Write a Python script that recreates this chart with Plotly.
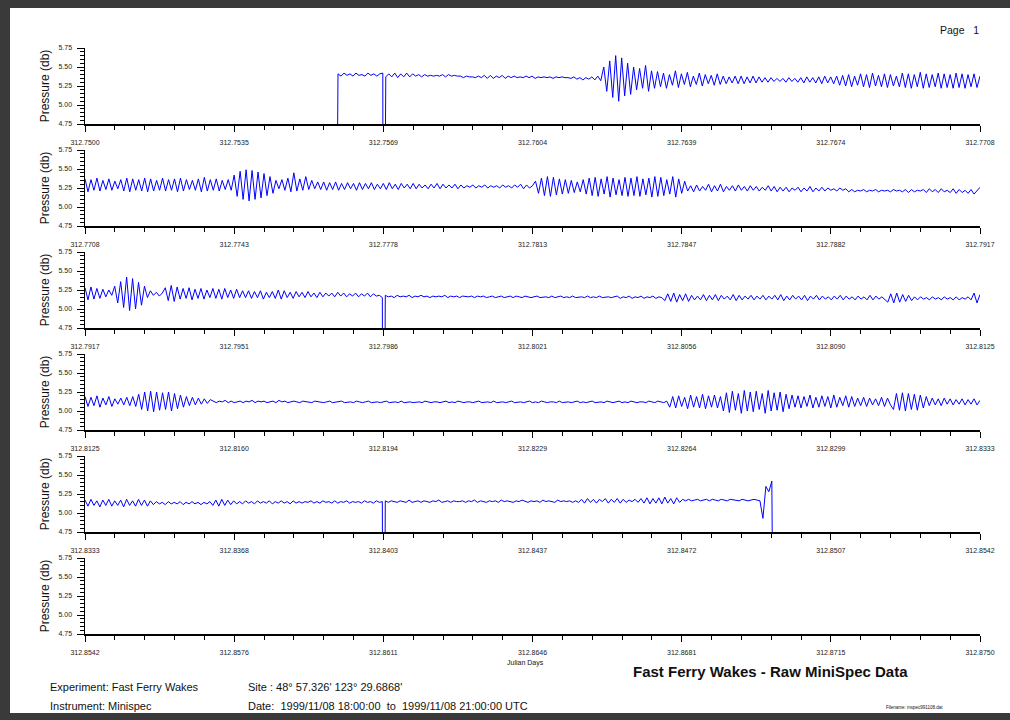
import plotly.graph_objects as go
from plotly.subplots import make_subplots

# ---------------- data ----------------
PANEL_STARTS = [312.750000, 312.770833, 312.791667, 312.812500, 312.833333, 312.854167]
PANEL_SPAN = 1.0 / 48.0  # 30 minutes in days

X_TICK_LABELS = [
    ["312.7500", "312.7535", "312.7569", "312.7604", "312.7639", "312.7674", "312.7708"],
    ["312.7708", "312.7743", "312.7778", "312.7813", "312.7847", "312.7882", "312.7917"],
    ["312.7917", "312.7951", "312.7986", "312.8021", "312.8056", "312.8090", "312.8125"],
    ["312.8125", "312.8160", "312.8194", "312.8229", "312.8264", "312.8299", "312.8333"],
    ["312.8333", "312.8368", "312.8403", "312.8437", "312.8472", "312.8507", "312.8542"],
    ["312.8542", "312.8576", "312.8611", "312.8646", "312.8681", "312.8715", "312.8750"],
]
Y_TICK_VALUES = [4.75, 5.00, 5.25, 5.50, 5.75]
Y_TICK_LABELS = ["4.75", "5.00", "5.25", "5.50", "5.75"]

# first / last sample time of each recorded segment (Julian days)
SERIES_TIME_SPANS = [
    (312.755820, 312.770833),
    (312.770833, 312.791667),
    (312.791667, 312.812500),
    (312.812500, 312.833333),
    (312.833333, 312.849390),
]
DROPOUT_TIMES = [312.756944, 312.798611, 312.840278]
DROPOUT_VALUE = 0.0

pressure_1 = [
    0.0,
    5.41, 5.38, 5.42, 5.39, 5.41, 5.38, 5.42, 5.39, 5.40, 5.38, 5.42, 5.39, 5.41, 5.38, 5.41,
    5.42, 5.37, 5.41, 5.37, 5.42, 5.36, 5.41, 5.37, 5.42, 5.37, 5.41, 5.38, 5.40, 5.37, 5.40, 5.38,
    5.39, 5.38, 5.39, 5.38, 5.40, 5.37, 5.40, 5.38, 5.39, 5.38,
    5.38, 5.36, 5.38, 5.37, 5.37, 5.36, 5.38, 5.36, 5.39, 5.35, 5.39, 5.35, 5.38, 5.36, 5.39, 5.35,
    5.38, 5.36, 5.38, 5.36, 5.37, 5.36, 5.38, 5.36, 5.38, 5.35, 5.37, 5.36, 5.37, 5.36, 5.37, 5.35,
    5.37, 5.36, 5.37, 5.36, 5.36, 5.35, 5.37,
    5.34, 5.36, 5.33, 5.36, 5.34, 5.37, 5.33, 5.38, 5.32,
    5.50, 5.18, 5.58, 5.10, 5.65, 5.05, 5.62, 5.12, 5.55, 5.14, 5.50, 5.20, 5.48, 5.22, 5.52, 5.18, 5.45,
    5.22, 5.44, 5.24, 5.42, 5.22, 5.40, 5.26, 5.45, 5.23, 5.41, 5.27, 5.43, 5.24, 5.38, 5.27, 5.42,
    5.25, 5.40, 5.28, 5.39, 5.26, 5.41, 5.27, 5.38, 5.28, 5.37, 5.29, 5.38, 5.28,
    5.38, 5.28, 5.37, 5.29, 5.38, 5.29, 5.37, 5.30, 5.36, 5.30, 5.36, 5.31, 5.35, 5.31, 5.35, 5.30,
    5.36, 5.31, 5.35, 5.30, 5.36, 5.29, 5.37, 5.30, 5.36, 5.29, 5.37, 5.28, 5.38, 5.29, 5.37, 5.28, 5.38,
    5.26, 5.39, 5.25, 5.40, 5.24, 5.38, 5.26, 5.41, 5.24, 5.40, 5.23, 5.42, 5.25, 5.39, 5.24, 5.41,
    5.23, 5.40, 5.25, 5.38, 5.24, 5.42, 5.23, 5.41, 5.22, 5.40, 5.24, 5.43, 5.22, 5.41, 5.23, 5.40,
    5.24, 5.42, 5.22, 5.41, 5.23, 5.40, 5.22, 5.42, 5.23, 5.41, 5.22, 5.40, 5.24, 5.41, 5.23, 5.38,
]

pressure_2 = [
    5.37, 5.20, 5.36, 5.22, 5.38, 5.21, 5.35, 5.23, 5.37, 5.22, 5.34, 5.24, 5.36, 5.21, 5.38, 5.20,
    5.37, 5.22, 5.36, 5.21, 5.38, 5.20, 5.37, 5.21, 5.35, 5.22, 5.38, 5.21, 5.36, 5.22, 5.37, 5.20,
    5.38, 5.21, 5.36, 5.23, 5.35, 5.22, 5.37, 5.20, 5.39, 5.21, 5.36, 5.22, 5.37, 5.21, 5.35, 5.23,
    5.36, 5.22,
    5.42, 5.14, 5.47, 5.10, 5.49, 5.08, 5.48, 5.10, 5.46, 5.12, 5.44, 5.15, 5.40, 5.18,
    5.35, 5.24, 5.36, 5.22, 5.38, 5.20, 5.45, 5.21, 5.37, 5.22, 5.40, 5.23, 5.35, 5.24, 5.33,
    5.23, 5.33, 5.22, 5.32, 5.23, 5.33, 5.22, 5.31, 5.23, 5.32, 5.24, 5.31, 5.22, 5.32, 5.23, 5.31,
    5.24, 5.32, 5.23, 5.30, 5.24, 5.31, 5.23, 5.32, 5.24, 5.30, 5.23, 5.31, 5.25, 5.30, 5.24, 5.31,
    5.24, 5.30, 5.25, 5.29, 5.24, 5.30, 5.25, 5.31, 5.24, 5.30, 5.25, 5.29, 5.25, 5.30, 5.24, 5.29,
    5.25, 5.28, 5.26, 5.29, 5.25, 5.28, 5.26, 5.29, 5.25, 5.28, 5.26, 5.28, 5.25, 5.29, 5.26, 5.28,
    5.25, 5.29, 5.26, 5.30, 5.24, 5.29, 5.25, 5.28,
    5.34, 5.18, 5.38, 5.15, 5.40, 5.14, 5.39, 5.16, 5.37, 5.17, 5.36, 5.18, 5.35, 5.19, 5.33, 5.20,
    5.36, 5.17, 5.38, 5.15, 5.39, 5.14, 5.37, 5.17, 5.40, 5.13, 5.38, 5.16, 5.36, 5.15, 5.39, 5.14,
    5.38, 5.15, 5.40, 5.14, 5.37, 5.16, 5.38, 5.13, 5.40, 5.14, 5.39, 5.15, 5.36, 5.17, 5.40, 5.13,
    5.37, 5.18, 5.34,
    5.21, 5.28, 5.20, 5.29, 5.21, 5.27, 5.22, 5.30, 5.20, 5.28, 5.21, 5.30, 5.20, 5.27, 5.22, 5.28,
    5.21, 5.29, 5.22, 5.27, 5.21, 5.28, 5.22, 5.27, 5.21, 5.26, 5.22, 5.28, 5.21, 5.27,
    5.20, 5.26, 5.21, 5.26, 5.20, 5.25, 5.22, 5.26, 5.20, 5.25, 5.21, 5.27, 5.20, 5.25, 5.21, 5.26,
    5.21, 5.25, 5.22, 5.24, 5.21, 5.25, 5.22, 5.24,
    5.20, 5.23, 5.20, 5.22, 5.21, 5.23, 5.20, 5.22, 5.21, 5.23, 5.20, 5.22, 5.21, 5.22, 5.20, 5.23,
    5.21, 5.22, 5.20, 5.23, 5.19, 5.23, 5.20, 5.22, 5.21, 5.23, 5.19, 5.24, 5.20, 5.23, 5.19, 5.24,
    5.20, 5.22, 5.19, 5.24, 5.18, 5.23, 5.19, 5.22, 5.18, 5.23, 5.17, 5.21, 5.26,
]

pressure_3 = [
    5.28, 5.12, 5.29, 5.13, 5.27, 5.14, 5.26, 5.16, 5.25, 5.18,
    5.30, 5.08, 5.36, 5.02, 5.42, 4.98, 5.40, 5.00, 5.35, 5.05, 5.30,
    5.15, 5.24, 5.18, 5.22, 5.17, 5.21,
    5.28, 5.11, 5.31, 5.10, 5.29, 5.13, 5.27, 5.14, 5.28, 5.12, 5.26, 5.14, 5.27, 5.13, 5.25, 5.15,
    5.27, 5.14, 5.26, 5.13, 5.27, 5.15, 5.25, 5.14, 5.26, 5.15, 5.24,
    5.15, 5.24, 5.14, 5.23, 5.15, 5.24, 5.13, 5.22, 5.15, 5.23, 5.14, 5.25, 5.13, 5.24, 5.15, 5.22,
    5.14, 5.23, 5.16, 5.22, 5.15, 5.23, 5.16, 5.21, 5.15, 5.22, 5.16, 5.21, 5.17, 5.21, 5.16, 5.22,
    5.17, 5.21, 5.16, 5.20, 5.17, 5.21, 5.16, 5.20, 5.17, 5.21, 5.16, 5.20, 5.17,
    5.18, 5.15, 5.18, 5.16, 5.17, 5.15, 5.18, 5.16, 5.17, 5.16, 5.18, 5.15, 5.17, 5.16, 5.18, 5.16,
    5.17, 5.15, 5.17, 5.16, 5.17, 5.16, 5.18, 5.15, 5.17, 5.16, 5.17, 5.15, 5.17, 5.16, 5.16, 5.17,
    5.15, 5.17, 5.16, 5.17, 5.15, 5.16, 5.17, 5.15, 5.16, 5.17, 5.15, 5.16, 5.17, 5.15, 5.17, 5.16,
    5.15, 5.17, 5.16, 5.15, 5.16, 5.17, 5.15, 5.16, 5.16, 5.15, 5.17, 5.15, 5.16, 5.17, 5.15, 5.16,
    5.15, 5.17, 5.15, 5.16, 5.16, 5.15, 5.17, 5.15, 5.16, 5.15, 5.17, 5.15, 5.16, 5.16, 5.15, 5.16,
    5.17, 5.14, 5.16, 5.15, 5.17, 5.14, 5.16, 5.15, 5.17, 5.14, 5.16, 5.15, 5.17, 5.14, 5.16, 5.15,
    5.11, 5.20, 5.10, 5.21, 5.09, 5.19, 5.11, 5.20, 5.10, 5.18, 5.12, 5.17,
    5.12, 5.19, 5.11, 5.18, 5.12, 5.19, 5.11, 5.18, 5.13, 5.17, 5.12, 5.19, 5.11, 5.18, 5.12, 5.17,
    5.13, 5.18, 5.12, 5.17, 5.13, 5.18, 5.12, 5.17, 5.13, 5.18, 5.12, 5.19, 5.11, 5.17, 5.12, 5.18,
    5.13, 5.17, 5.12, 5.18, 5.11, 5.17, 5.13, 5.18, 5.12, 5.17, 5.13, 5.16, 5.12, 5.17, 5.13, 5.18,
    5.12, 5.17, 5.13, 5.16, 5.12, 5.17, 5.13, 5.16, 5.12, 5.18, 5.12, 5.17, 5.13, 5.16, 5.12,
    5.09, 5.20, 5.08, 5.21, 5.09, 5.19, 5.10, 5.18, 5.11,
    5.16, 5.12, 5.16, 5.13, 5.15, 5.12, 5.16, 5.13, 5.15, 5.12, 5.16, 5.13, 5.15, 5.12, 5.16, 5.12,
    5.15, 5.13, 5.16, 5.12,
    5.21, 5.08, 5.19,
]

pressure_4 = [
    5.19, 5.06, 5.18, 5.07, 5.20, 5.05, 5.17, 5.08, 5.19, 5.06, 5.16, 5.09, 5.17, 5.08, 5.18, 5.07,
    5.19, 5.06,
    5.22, 5.02, 5.25, 5.00, 5.26, 4.99, 5.25, 5.01, 5.24, 5.02, 5.25, 5.00, 5.23, 5.03, 5.21, 5.05, 5.19,
    5.07, 5.18, 5.08, 5.17, 5.09, 5.16, 5.10, 5.15,
    5.13, 5.11, 5.13, 5.12, 5.14, 5.11, 5.13, 5.11, 5.12, 5.13, 5.11, 5.13, 5.12, 5.14, 5.11, 5.13,
    5.12, 5.13, 5.11, 5.12, 5.13, 5.11, 5.14, 5.12, 5.13, 5.11, 5.12, 5.13, 5.12, 5.11, 5.13, 5.12,
    5.12, 5.11, 5.13, 5.12, 5.12, 5.11, 5.12, 5.13, 5.11, 5.12, 5.12, 5.13, 5.11, 5.12, 5.12, 5.11,
    5.13, 5.12, 5.11, 5.12, 5.13, 5.11, 5.12, 5.12, 5.11, 5.12, 5.13, 5.11, 5.12, 5.12, 5.11, 5.13,
    5.11, 5.12, 5.12, 5.11, 5.12, 5.12, 5.11, 5.13, 5.12, 5.11, 5.12, 5.12, 5.11, 5.12, 5.13, 5.11,
    5.12, 5.11, 5.13, 5.12, 5.11, 5.12, 5.12, 5.11, 5.12, 5.13, 5.11, 5.12, 5.12, 5.11, 5.13, 5.11,
    5.12, 5.12, 5.11, 5.12, 5.13, 5.11, 5.12, 5.12, 5.11, 5.12, 5.13, 5.11, 5.12, 5.11, 5.13, 5.12,
    5.11, 5.12, 5.12, 5.11, 5.13, 5.11, 5.12, 5.12, 5.11, 5.12, 5.13, 5.11, 5.12, 5.11, 5.12, 5.13,
    5.11, 5.12, 5.12, 5.11, 5.13, 5.12, 5.11, 5.12, 5.13, 5.11, 5.12, 5.11, 5.13, 5.12, 5.11, 5.12,
    5.12, 5.11, 5.13, 5.12, 5.11, 5.13, 5.12, 5.11, 5.13,
    5.05, 5.19, 5.04, 5.20, 5.06, 5.18, 5.03, 5.21, 5.05, 5.19, 5.04, 5.22, 5.03, 5.20, 5.05, 5.21,
    5.04, 5.19,
    5.00, 5.24, 4.98, 5.26, 5.01, 5.23, 4.97, 5.27, 5.00, 5.25, 4.99, 5.26, 5.02, 5.23, 4.97, 5.27,
    5.00, 5.24, 5.01, 5.25, 4.99, 5.22, 5.03, 5.21,
    5.05, 5.20, 5.04, 5.19, 5.06, 5.21, 5.04, 5.18, 5.05, 5.20, 5.06, 5.19, 5.04, 5.21, 5.05, 5.18,
    5.07, 5.20, 5.05, 5.19, 5.06, 5.17, 5.07, 5.18, 5.06, 5.17, 5.08, 5.16, 5.07, 5.18, 5.06, 5.17, 5.08,
    5.02, 5.23, 5.01, 5.24, 5.00, 5.23, 5.02, 5.22, 5.01, 5.21, 5.04, 5.19,
    5.07, 5.17, 5.08, 5.16, 5.07, 5.17, 5.09, 5.16, 5.08, 5.15, 5.09, 5.16, 5.08, 5.15, 5.09, 5.16,
    5.08, 5.14,
]

pressure_5 = [
    5.17, 5.09, 5.18, 5.10, 5.16, 5.08, 5.17, 5.10, 5.18, 5.09, 5.16, 5.10, 5.17, 5.08, 5.18, 5.10,
    5.16, 5.09, 5.18, 5.10, 5.17, 5.09, 5.16,
    5.11, 5.15, 5.12, 5.14, 5.11, 5.15, 5.12, 5.14, 5.12, 5.15, 5.11, 5.14, 5.12, 5.15, 5.12, 5.14,
    5.11, 5.14, 5.12, 5.15,
    5.10, 5.17, 5.09, 5.18, 5.10, 5.17, 5.11, 5.16, 5.12,
    5.15, 5.12, 5.16, 5.13, 5.15, 5.12, 5.16, 5.13, 5.15, 5.13, 5.16, 5.12, 5.15, 5.13, 5.16, 5.13,
    5.15, 5.12, 5.16, 5.13, 5.15, 5.13, 5.15, 5.14, 5.16, 5.13, 5.15, 5.13, 5.16, 5.14, 5.15, 5.13,
    5.16, 5.13, 5.15, 5.14, 5.16, 5.13, 5.15, 5.14, 5.15, 5.13, 5.16, 5.14, 5.15, 5.13, 5.16, 5.14,
    5.15,
    5.16, 5.14, 5.16, 5.15, 5.14, 5.16, 5.15, 5.14, 5.17, 5.14, 5.15, 5.16, 5.14, 5.16, 5.15, 5.14,
    5.16, 5.15, 5.17, 5.14, 5.15, 5.16, 5.14, 5.16, 5.15, 5.15, 5.16, 5.14, 5.16, 5.15, 5.17, 5.14,
    5.16, 5.15, 5.14, 5.16, 5.15, 5.16, 5.14, 5.17, 5.15, 5.16, 5.15, 5.14, 5.16, 5.15, 5.17, 5.15,
    5.14, 5.16, 5.15, 5.16, 5.14, 5.17, 5.15, 5.16, 5.15, 5.14, 5.17, 5.15, 5.16, 5.15, 5.16, 5.14,
    5.16,
    5.14, 5.18, 5.13, 5.19, 5.14, 5.18, 5.13, 5.18, 5.15, 5.19, 5.13, 5.18, 5.14, 5.19, 5.13, 5.18,
    5.14, 5.17, 5.15, 5.18, 5.14,
    5.19, 5.13, 5.20, 5.12, 5.19, 5.13, 5.20, 5.12, 5.21, 5.13, 5.19, 5.12, 5.20, 5.14, 5.18,
    5.16, 5.18, 5.16, 5.17, 5.18, 5.16, 5.17, 5.18, 5.16, 5.18, 5.17, 5.16, 5.18, 5.17, 5.16, 5.18,
    5.17, 5.17, 5.16, 5.18, 5.17, 5.16, 5.17, 5.18, 5.17,
    5.16, 4.93, 5.35, 5.28, 5.42,
    0.0,
]

PRESSURE_SERIES = [pressure_1, pressure_2, pressure_3, pressure_4, pressure_5]

# ---------------- layout helpers ----------------
W, H = 1010, 720
ML, MR, MT, MB = 85, 30, 48, 86
PW, PH = W - ML - MR, H - MT - MB
FONT = "Liberation Sans, Arial, Helvetica, sans-serif"
FRAME = "#3a3a3a"


def fx(px):
    return (px - ML) / PW


def fy(py):
    return (H - MB - py) / PH


fig = make_subplots(rows=6, cols=1, vertical_spacing=26 / PH)

for i in range(6):
    row = i + 1
    if i < len(PRESSURE_SERIES):
        vals = PRESSURE_SERIES[i]
        t_a, t_b = SERIES_TIME_SPANS[i]
        dt = (t_b - t_a) / (len(vals) - 1)
        pts = [(t_a + k * dt, v) for k, v in enumerate(vals)]
        for td in DROPOUT_TIMES:
            if t_a < td < t_b:
                pts.append((td, DROPOUT_VALUE))
        pts.sort()
        xs = [p[0] for p in pts]
        ys = [p[1] for p in pts]
    else:
        xs, ys = [], []
    fig.add_trace(
        go.Scatter(x=xs, y=ys, mode="lines", line=dict(color="#0000ff", width=1),
                   showlegend=False, hoverinfo="skip"),
        row=row, col=1,
    )

    s = PANEL_STARTS[i]
    major = [s + k * PANEL_SPAN / 6 for k in range(7)]
    minor = [s + k * PANEL_SPAN / 30 for k in range(31)]
    fig.update_xaxes(
        range=[s, s + PANEL_SPAN], tickmode="array", tickvals=major, ticktext=X_TICK_LABELS[i],
        ticks="outside", ticklen=6, tickwidth=1, tickcolor="#000",
        showline=True, linecolor="#000", linewidth=1.5, showgrid=False, zeroline=False,
        tickfont=dict(size=7, color="#222", family=FONT), ticklabelstandoff=5,
        minor=dict(tickmode="array", tickvals=minor, ticks="outside", ticklen=4,
                   tickwidth=1, tickcolor="#000", showgrid=False),
        fixedrange=True, row=row, col=1,
    )
    fig.update_yaxes(
        range=[4.75, 5.75], tickmode="array", tickvals=Y_TICK_VALUES, ticktext=Y_TICK_LABELS,
        ticks="outside", ticklen=7, tickwidth=1, tickcolor="#000",
        showline=True, linecolor="#000", linewidth=1.5, showgrid=False, zeroline=False,
        tickfont=dict(size=7, color="#222", family=FONT), ticklabelstandoff=3,
        minor=dict(tickmode="array", tickvals=[4.75 + k * 0.05 for k in range(21)],
                   ticks="outside", ticklen=4, tickwidth=1, tickcolor="#000", showgrid=False),
        title=dict(text="Pressure (db)", font=dict(size=12, color="#111", family=FONT), standoff=6),
        fixedrange=True, row=row, col=1,
    )

shapes = [
    dict(type="rect", xref="paper", yref="paper", x0=fx(0), x1=fx(W), y0=fy(0), y1=fy(8),
         fillcolor=FRAME, line=dict(width=0), layer="above"),
    dict(type="rect", xref="paper", yref="paper", x0=fx(0), x1=fx(10), y0=fy(0), y1=fy(H),
         fillcolor=FRAME, line=dict(width=0), layer="above"),
    dict(type="rect", xref="paper", yref="paper", x0=fx(0), x1=fx(W), y0=fy(713), y1=fy(H),
         fillcolor=FRAME, line=dict(width=0), layer="above"),
]

NB = "\u00a0"


def ann(text, x, y, size, xanchor="left", bold=False):
    return dict(text=f"<b>{text}</b>" if bold else text, x=fx(x), y=fy(y), xref="paper", yref="paper",
                xanchor=xanchor, yanchor="middle", showarrow=False,
                font=dict(size=size, color="#111", family=FONT))


annotations = [
    ann(f"Page{NB}{NB}{NB}1", 959, 30, 10.5, "center"),
    ann("Julian Days", 525, 663, 7, "center"),
    ann("Fast Ferry Wakes - Raw MiniSpec Data", 770, 671, 15, "center", bold=True),
    ann("Filename: mspec991108.dat", 914, 707, 4.5, "center"),
    ann("Experiment: Fast Ferry Wakes", 48, 687, 11),
    ann("Instrument: Minispec", 48, 706, 11),
    ann("Site : 48° 57.326' 123° 29.6868'", 246, 687, 11),
    ann(f"Date:{NB}{NB}1999/11/08 18:00:00{NB}{NB}to{NB}{NB}1999/11/08 21:00:00 UTC", 246, 706, 11),
]

fig.update_layout(
    width=W, height=H, margin=dict(l=ML, r=MR, t=MT, b=MB),
    paper_bgcolor="white", plot_bgcolor="white", showlegend=False,
    font=dict(family=FONT, color="#111"),
    shapes=shapes, annotations=annotations,
)

fig.write_html(
    "out.html",
    config={"displayModeBar": False, "staticPlot": True},
    post_script="document.body.style.margin='0';document.body.style.overflow='hidden';",
)
